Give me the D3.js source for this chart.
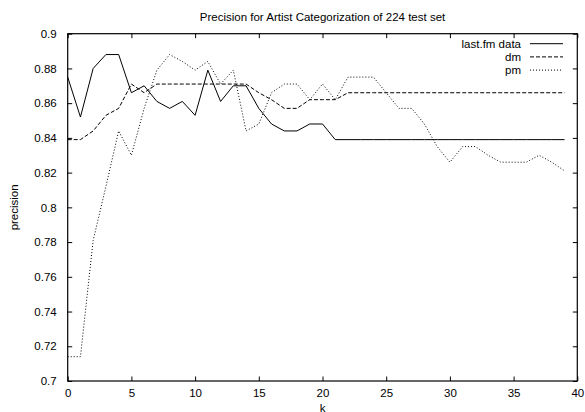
<!DOCTYPE html>
<html>
<head>
<meta charset="utf-8">
<script src="https://cdn.jsdelivr.net/npm/d3@7"></script>
<style>
  body { margin: 0; background: #fff; }
  svg { display: block; font-family: "Liberation Sans", Arial, sans-serif; }
</style>
</head>
<body>
<script>
// chart values (fractions of the 224 test set)
const kValues = [0,1,2,3,4,5,6,7,8,9,10,11,12,13,14,15,16,17,18,19,
                 20,21,22,23,24,25,26,27,28,29,30,31,32,33,34,35,36,37,38,39];
const lastfm = [0.875,0.852,0.880,0.888,0.888,0.866,0.870,0.861,0.857,0.861,
                0.853,0.879,0.861,0.870,0.870,0.857,0.848,0.844,0.844,0.848,
                0.848,0.839,0.839,0.839,0.839,0.839,0.839,0.839,0.839,0.839,
                0.839,0.839,0.839,0.839,0.839,0.839,0.839,0.839,0.839,0.839];
const dm = [0.839,0.839,0.844,0.853,0.857,0.871,0.866,0.871,0.871,0.871,
            0.871,0.871,0.871,0.871,0.871,0.866,0.862,0.857,0.857,0.862,
            0.862,0.862,0.866,0.866,0.866,0.866,0.866,0.866,0.866,0.866,
            0.866,0.866,0.866,0.866,0.866,0.866,0.866,0.866,0.866,0.866];
const pm = [0.714,0.714,0.781,0.812,0.844,0.830,0.857,0.879,0.888,0.884,
            0.879,0.884,0.871,0.879,0.844,0.848,0.866,0.871,0.871,0.862,
            0.871,0.862,0.875,0.875,0.875,0.866,0.857,0.857,0.848,0.835,
            0.826,0.835,0.835,0.830,0.826,0.826,0.826,0.830,0.826,0.821];
const seriesNames = ["last.fm data", "dm", "pm"];
const xTicks = [0,5,10,15,20,25,30,35,40];
const yTicks = [0.7,0.72,0.74,0.76,0.78,0.8,0.82,0.84,0.86,0.88,0.9];
const yTickLabels = ["0.7","0.72","0.74","0.76","0.78","0.8","0.82","0.84","0.86","0.88","0.9"];

const W = 585, H = 412;
const margin = {top: 33.7, right: 7.7, bottom: 31, left: 67.7};
const w = W - margin.left - margin.right;
const h = H - margin.top - margin.bottom;
const dashes = ["none", "4,2", "1,2"];

const svg = d3.select("body").append("svg")
  .attr("width", W).attr("height", H);

const g = svg.append("g")
  .attr("transform", "translate(" + margin.left + "," + margin.top + ")");

const x = d3.scaleLinear().domain([0, 40]).range([0, w]);
const y = d3.scaleLinear().domain([0.7, 0.9]).range([h, 0]);

// axes: ticks point inward on all four sides, like gnuplot
function styleAxis(sel) {
  sel.select(".domain").remove();
  sel.selectAll(".tick line").attr("stroke", "#000");
  sel.selectAll(".tick text").attr("fill", "#000").style("font-size", "11.5px");
}

g.append("g").attr("transform", "translate(0," + h + ")")
  .call(d3.axisBottom(x).tickValues(xTicks).tickSize(-4.5).tickPadding(8))
  .call(styleAxis);
g.append("g")
  .call(d3.axisTop(x).tickValues(xTicks).tickSize(-4.5).tickFormat(""))
  .call(styleAxis);
g.append("g")
  .call(d3.axisLeft(y).tickValues(yTicks).tickSize(-4.5).tickPadding(11)
        .tickFormat((d, i) => yTickLabels[i]))
  .call(styleAxis);
g.append("g").attr("transform", "translate(" + w + ",0)")
  .call(d3.axisRight(y).tickValues(yTicks).tickSize(-4.5).tickFormat(""))
  .call(styleAxis);

g.append("rect")
  .attr("x", 0).attr("y", 0).attr("width", w).attr("height", h)
  .attr("fill", "none").attr("stroke", "#000").attr("stroke-width", 1.2);

// lines
const line = d3.line()
  .x((d, i) => x(kValues[i]))
  .y(d => y(d));

[lastfm, dm, pm].forEach(function(s, i) {
  g.append("path")
    .datum(s)
    .attr("fill", "none")
    .attr("stroke", "#000")
    .attr("stroke-width", 1)
    .attr("stroke-dasharray", dashes[i])
    .attr("d", line);
});

// legend
const legend = svg.append("g").style("font-size", "11.5px");
seriesNames.forEach(function(name, i) {
  const ly = 43.7 + i * 13.2;
  legend.append("text")
    .attr("x", 521).attr("y", ly).attr("dy", "0.35em")
    .attr("text-anchor", "end").attr("fill", "#000")
    .text(name);
  legend.append("line")
    .attr("x1", 530).attr("x2", 563).attr("y1", ly).attr("y2", ly)
    .attr("stroke", "#000").attr("stroke-width", 1)
    .attr("stroke-dasharray", dashes[i]);
});

// titles
svg.append("text")
  .attr("x", margin.left + w / 2).attr("y", 21)
  .attr("text-anchor", "middle").style("font-size", "11.5px")
  .text("Precision for Artist Categorization of 224 test set");

svg.append("text")
  .attr("transform", "translate(18," + (margin.top + h / 2) + ") rotate(-90)")
  .attr("text-anchor", "middle").style("font-size", "11.5px")
  .text("precision");

svg.append("text")
  .attr("x", margin.left + w / 2).attr("y", 411.5)
  .attr("text-anchor", "middle").style("font-size", "11.5px")
  .text("k");
</script>
</body>
</html>
